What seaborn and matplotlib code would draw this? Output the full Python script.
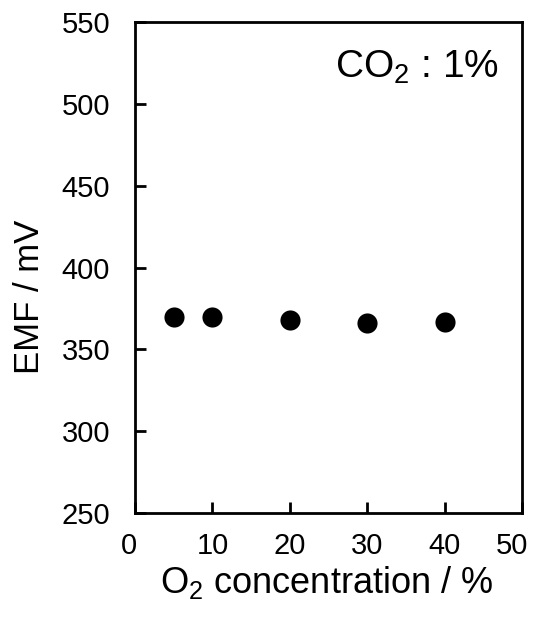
import matplotlib
matplotlib.use("Agg")
import matplotlib.pyplot as plt
import matplotlib.transforms as mtransforms
import seaborn as sns
import pandas as pd

# O2 concentration (%) and measured EMF (mV) at 1% CO2
o2_conc = [5, 10, 20, 30, 40]
emf_mv = [370, 370, 368, 366, 367]
x_ticks = [0, 10, 20, 30, 40, 50]
y_ticks = [250, 300, 350, 400, 450, 500, 550]

df = pd.DataFrame({"o2": o2_conc, "emf": emf_mv})

sns.set_theme(style="white")
plt.rcParams["font.family"] = ["Liberation Sans", "DejaVu Sans"]
plt.rcParams["mathtext.fontset"] = "custom"
plt.rcParams["mathtext.rm"] = "Liberation Sans"

fig = plt.figure(figsize=(5.36, 6.17), dpi=100)
ax = fig.add_axes([0.252, 0.1686, 0.722, 0.7957])

sns.scatterplot(data=df, x="o2", y="emf", ax=ax, color="black", s=210,
                edgecolor="black", linewidth=0, legend=False, zorder=3)

ax.set_xlim(0, 50)
ax.set_ylim(250, 550)
ax.set_xticks(x_ticks)
ax.set_yticks(y_ticks)
ax.set_xticklabels([str(v) for v in x_ticks])
ax.set_yticklabels([str(v) for v in y_ticks])

ax.tick_params(axis="both", direction="in", length=8, width=2,
               labelsize=21, color="black", labelcolor="black",
               bottom=True, left=True, top=False, right=False)
ax.tick_params(axis="x", pad=14)
ax.tick_params(axis="y", pad=18)
for side in ["left", "bottom", "right", "top"]:
    ax.spines[side].set_visible(True)
    ax.spines[side].set_color("black")
    ax.spines[side].set_linewidth(2)

# nudge the end labels of the x axis slightly to the left
xlabels = ax.get_xticklabels()
for lbl, dx in ((xlabels[0], -6), (xlabels[-1], -10)):
    lbl.set_transform(lbl.get_transform() +
                      mtransforms.ScaledTranslation(dx / 100, 0, fig.dpi_scale_trans))

ax.set_xlabel(r"O$_2$ concentration / %", fontsize=26, color="black", va="top")
ax.xaxis.set_label_coords(0.495, -0.103)
ax.set_ylabel("EMF / mV", fontsize=25, color="black", va="center")
ax.yaxis.set_label_coords(-0.272, 0.44)

ax.text(0.94, 0.945, r"CO$_2$ : 1%", transform=ax.transAxes, ha="right",
        va="top", fontsize=28, color="black")

fig.savefig("out.png", dpi=100)
